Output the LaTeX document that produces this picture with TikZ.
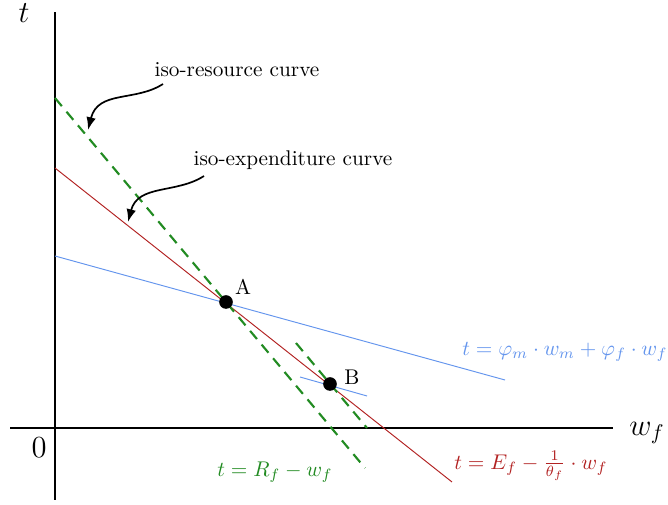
\documentclass[tikz,border=0pt]{standalone}
\usetikzlibrary{arrows.meta}
\definecolor{isogreen}{RGB}{34,139,34}
\definecolor{isored}{RGB}{178,34,34}
\definecolor{isoblue}{RGB}{100,149,237}
\begin{document}
\begin{tikzpicture}[x=0.47pt,y=-0.47pt,
  axisline/.style={line width=1pt,black},
  greenline/.style={isogreen,line width=1pt,dash pattern=on 5pt off 3.4pt},
  redline/.style={isored,line width=0.45pt},
  blueline/.style={isoblue,line width=0.45pt},
  dotpt/.style={circle,fill=black,inner sep=0pt,minimum size=6.4pt},
  pointer/.style={-{Latex[length=6pt,width=4.5pt]},line width=0.8pt},
  lbl/.style={inner sep=1pt}]
\useasboundingbox (0,0) rectangle (668,505);
% axes
\coordinate (ytop) at (55,12);
\coordinate (ybot) at (55,500);
\coordinate (xl) at (10,428);
\coordinate (xr) at (613,428);
\draw[axisline] (ybot) -- (ytop);
\draw[axisline] (xl) -- (xr);
\node[lbl,font=\Large] (tlab) at (24,13) {$t$};
\node[lbl,font=\Large] (wlab) at (647,433) {$w_f$};
\node[lbl,font=\Large] (zero) at (39,448) {$0$};
% lines
\coordinate (g1a) at (55,98);
\coordinate (g1b) at (365,468);
\coordinate (g2a) at (296,343);
\coordinate (g2b) at (367,428);
\coordinate (ra) at (55,168);
\coordinate (rb) at (452,482);
\coordinate (ba) at (55,256);
\coordinate (bb) at (505,380);
\coordinate (sa) at (300,377);
\coordinate (sb) at (367,396);
\draw[blueline] (ba) -- (bb);
\draw[blueline] (sa) -- (sb);
\draw[redline] (ra) -- (rb);
\draw[greenline] (g1a) -- (g1b);
\draw[greenline] (g2a) -- (g2b);
% points
\node[dotpt] (A) at (226,302) {};
\node[dotpt] (B) at (330,384) {};
\node[lbl] (Alab) at (243,287) {A};
\node[lbl] (Blab) at (352,377) {B};
% equation labels
\node[lbl,text=isoblue] (beq) at (565,352) {$t=\varphi_m\cdot w_m+\varphi_f\cdot w_f$};
\node[lbl,text=isored] (req) at (531,466) {$t=E_f-\frac{1}{\theta_f}\cdot w_f$};
\node[lbl,text=isogreen] (geq) at (275,472) {$t=R_f-w_f$};
% curve labels and pointers
\node[lbl] (res) at (237,70) {iso-resource curve};
\node[lbl] (exp) at (293,160) {iso-expenditure curve};
\coordinate (resS) at (163,84);
\coordinate (resE) at (88,130);
\coordinate (expS) at (204,176);
\coordinate (expE) at (128,222);
\draw[pointer] (resS) .. controls (135,102) and (98,90) .. (resE);
\draw[pointer] (expS) .. controls (176,194) and (138,184) .. (expE);
\end{tikzpicture}
\end{document}
